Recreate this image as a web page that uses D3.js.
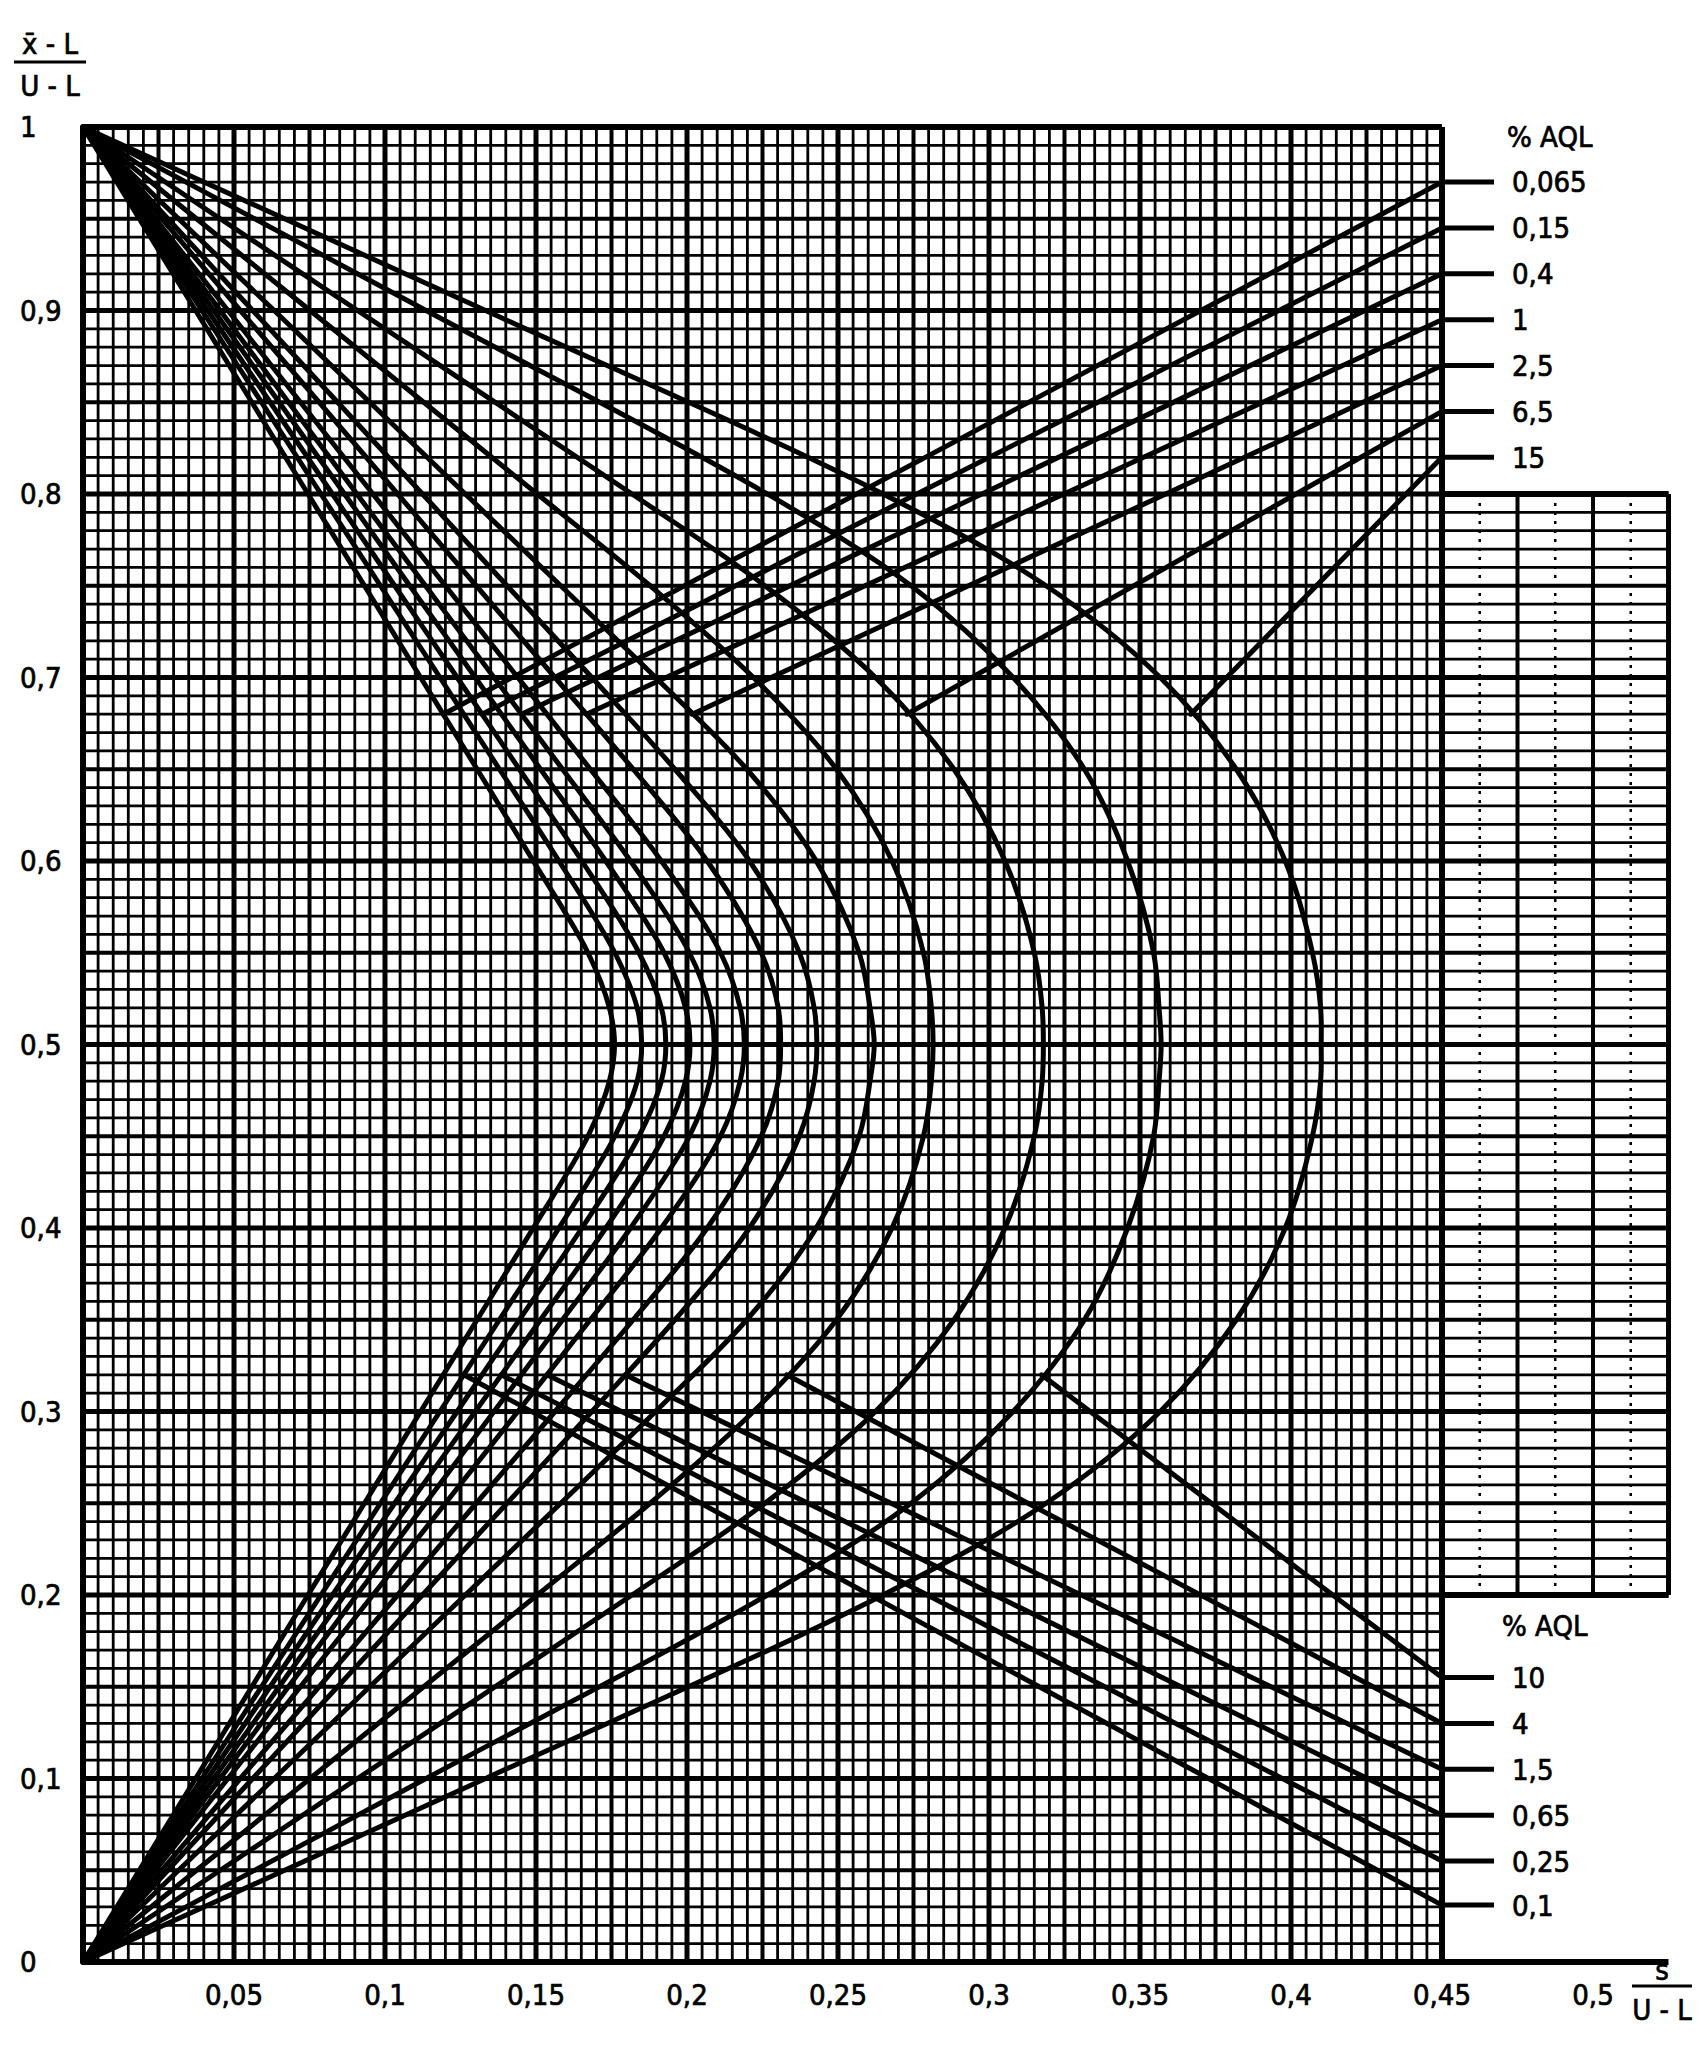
<!DOCTYPE html>
<html>
<head>
<meta charset="utf-8">
<script src="https://cdn.jsdelivr.net/npm/d3@7"></script>
<style>
  body { margin: 0; background: #fff; }
  text { font-family: "DejaVu Sans Condensed", "DejaVu Sans", sans-serif; fill: #000; stroke: #000; stroke-width: 0.7px; }
</style>
</head>
<body>
<svg id="chart" width="1701" height="2045"></svg>
<script>
// AQL of each acceptance curve, inner curve first
const aqlValues = ["0,065", "0,1", "0,15", "0,25", "0,4", "0,65", "1", "1,5", "2,5", "4", "6,5", "10", "15"];

// lower half of each curve: x = s/(U-L) at y = (x-L)/(U-L)
// (the upper half is the mirror image about y = 0.5)
const halfY = [0, 0.1, 0.2, 0.25, 0.3, 0.35, 0.4, 0.45, 0.48, 0.5];
const halfX = [
  [0, 0.0373, 0.0745, 0.0932, 0.1118, 0.1305, 0.1491, 0.1672, 0.1743, 0.176],
  [0, 0.0394, 0.0788, 0.0985, 0.1182, 0.1379, 0.1576, 0.1761, 0.1835, 0.185],
  [0, 0.0413, 0.0826, 0.1032, 0.1239, 0.1445, 0.1652, 0.1841, 0.1915, 0.193],
  [0, 0.0433, 0.0866, 0.1082, 0.1299, 0.1515, 0.1731, 0.1924, 0.1995, 0.201],
  [0, 0.0454, 0.0907, 0.1134, 0.1361, 0.1588, 0.1813, 0.2008, 0.2076, 0.209],
  [0, 0.0480, 0.0960, 0.1200, 0.1440, 0.1680, 0.1915, 0.2111, 0.2176, 0.219],
  [0, 0.0521, 0.1042, 0.1302, 0.1563, 0.1822, 0.2067, 0.2246, 0.2302, 0.231],
  [0, 0.0562, 0.1124, 0.1404, 0.1685, 0.1960, 0.2207, 0.2372, 0.2421, 0.243],
  [0, 0.0633, 0.1266, 0.1582, 0.1896, 0.2198, 0.2428, 0.2570, 0.2606, 0.262],
  [0, 0.0752, 0.1504, 0.1878, 0.2220, 0.2495, 0.2679, 0.2783, 0.2809, 0.2815],
  [0, 0.0909, 0.1818, 0.2258, 0.2624, 0.2884, 0.3053, 0.3150, 0.3176, 0.318],
  [0, 0.1136, 0.2266, 0.2742, 0.3080, 0.3316, 0.3459, 0.3545, 0.3563, 0.357],
  [0, 0.1333, 0.2649, 0.3189, 0.3567, 0.3819, 0.3981, 0.4071, 0.4098, 0.410]
];

// labelled lines that branch off a curve and run out to the right edge (s/(U-L) = 0.45)
const topLabels = ["0,065", "0,15", "0,4", "1", "2,5", "6,5", "15"];
const topStartX = [0.1193, 0.1321, 0.1452, 0.1667, 0.2017, 0.2728, 0.3668];
const topStartY = [0.68, 0.68, 0.68, 0.68, 0.68, 0.68, 0.68];
const topEnds = [0.970, 0.945, 0.920, 0.895, 0.870, 0.845, 0.820];

const bottomLabels = ["10", "4", "1,5", "0,65", "0,25", "0,1"];
const bottomStartX = [0.3174, 0.2330, 0.1795, 0.1536, 0.1385, 0.1261];
const bottomStartY = [0.32, 0.32, 0.32, 0.32, 0.32, 0.32];
const bottomEnds = [0.155, 0.130, 0.105, 0.080, 0.055, 0.031];

const xTicks = [0.05, 0.1, 0.15, 0.2, 0.25, 0.3, 0.35, 0.4, 0.45, 0.5];
const yTicks = [0, 0.1, 0.2, 0.3, 0.4, 0.5, 0.6, 0.7, 0.8, 0.9, 1];

const svg = d3.select("#chart");
const x = d3.scaleLinear().domain([0, 0.525]).range([83, 1668.5]);
const y = d3.scaleLinear().domain([0, 1]).range([1962, 127]);
const fmt = v => String(+v.toFixed(3)).replace(".", ",");

// ---- graph paper ----
const grid = svg.append("g");
function vLine(v, y0, y1, w, dash) {
  grid.append("line")
    .attr("x1", x(v)).attr("x2", x(v)).attr("y1", y(y0)).attr("y2", y(y1))
    .attr("stroke", "#000").attr("stroke-width", w)
    .attr("stroke-dasharray", dash || null);
}
function hLine(v, x0, x1, w) {
  grid.append("line")
    .attr("x1", x(x0)).attr("x2", x(x1)).attr("y1", y(v)).attr("y2", y(v))
    .attr("stroke", "#000").attr("stroke-width", w);
}
// main field 0..0.45 x 0..1
d3.range(0, 91).forEach(i => {
  const w = i % 10 === 0 ? 5 : i % 5 === 0 ? 4 : 2.8;
  vLine(i * 0.005, 0, 1, w);
});
d3.range(0, 101).forEach(i => {
  const w = i % 10 === 0 ? 5 : i % 5 === 0 ? 4 : 2.8;
  hLine(i * 0.01, 0, 0.45, w);
});
// extension to the right, 0.45..0.525 x 0.2..0.8
d3.range(1, 7).forEach(i => {
  const v = 0.45 + i * 0.0125;
  vLine(v, 0.2, 0.8, i % 2 === 0 ? 4 : 2.5, i % 2 === 0 ? null : "3 6");
});
d3.range(20, 81).forEach(i => {
  const w = i % 10 === 0 ? 5 : i % 5 === 0 ? 4 : 2.8;
  hLine(i * 0.01, 0.45, 0.525, w);
});
// borders
vLine(0, 0, 1, 6);
vLine(0.45, 0, 1, 6);
hLine(1, 0, 0.45, 6);
hLine(0, 0, 0.525, 6);
hLine(0.8, 0.45, 0.525, 6);
hLine(0.2, 0.45, 0.525, 6);
vLine(0.525, 0.2, 0.8, 5);

// ---- curves ----
const line = d3.line()
  .x(d => x(d[0])).y(d => y(d[1]))
  .curve(d3.curveCatmullRom.alpha(0.5));

const curves = svg.append("g")
  .attr("fill", "none").attr("stroke", "#000").attr("stroke-width", 5)
  .attr("stroke-linejoin", "round").attr("stroke-linecap", "round");

halfX.forEach(xs => {
  const lower = xs.map((v, j) => [v, halfY[j]]);
  const upper = lower.slice(0, -1).reverse().map(d => [d[0], 1 - d[1]]);
  curves.append("path").datum(lower.concat(upper)).attr("d", line);
});

// long lines to the labels
topEnds.forEach((v, i) => {
  curves.append("path").datum([[topStartX[i], topStartY[i]], [0.45, v]]).attr("d", line);
});
bottomEnds.forEach((v, i) => {
  curves.append("path").datum([[bottomStartX[i], bottomStartY[i]], [0.45, v]]).attr("d", line);
});

// ---- label leaders and labels ----
const lab = svg.append("g").attr("font-size", 29);
function leader(v, text) {
  lab.append("line")
    .attr("x1", x(0.45)).attr("x2", x(0.45) + 52)
    .attr("y1", y(v)).attr("y2", y(v))
    .attr("stroke", "#000").attr("stroke-width", 5);
  lab.append("text")
    .attr("x", x(0.45) + 70).attr("y", y(v)).attr("dy", "0.36em")
    .text(text);
}
topEnds.forEach((v, i) => leader(v, topLabels[i]));
bottomEnds.forEach((v, i) => leader(v, bottomLabels[i]));
lab.append("text").attr("x", x(0.45) + 65).attr("y", 137).attr("dy", "0.36em").text("% AQL");
lab.append("text").attr("x", x(0.45) + 60).attr("y", 1626).attr("dy", "0.36em").text("% AQL");

// ---- axes ----
yTicks.forEach(v => {
  lab.append("text").attr("x", 20).attr("y", y(v)).attr("dy", "0.36em").text(fmt(v));
});
xTicks.forEach(v => {
  lab.append("text").attr("x", x(v)).attr("y", 1995).attr("dy", "0.36em")
    .attr("text-anchor", "middle").text(fmt(v));
});

// axis titles as fractions
function fraction(cx, top, bottom, yTop, yBar, yBot, half) {
  lab.append("text").attr("x", cx).attr("y", yTop).attr("text-anchor", "middle").text(top);
  lab.append("line").attr("x1", cx - half).attr("x2", cx + half)
    .attr("y1", yBar).attr("y2", yBar).attr("stroke", "#000").attr("stroke-width", 3);
  lab.append("text").attr("x", cx).attr("y", yBot).attr("text-anchor", "middle").text(bottom);
}
fraction(50, "x\u0304 - L", "U - L", 54, 62, 96, 36);
fraction(1662, "s", "U - L", 1980, 1986, 2020, 30);
</script>
</body>
</html>
